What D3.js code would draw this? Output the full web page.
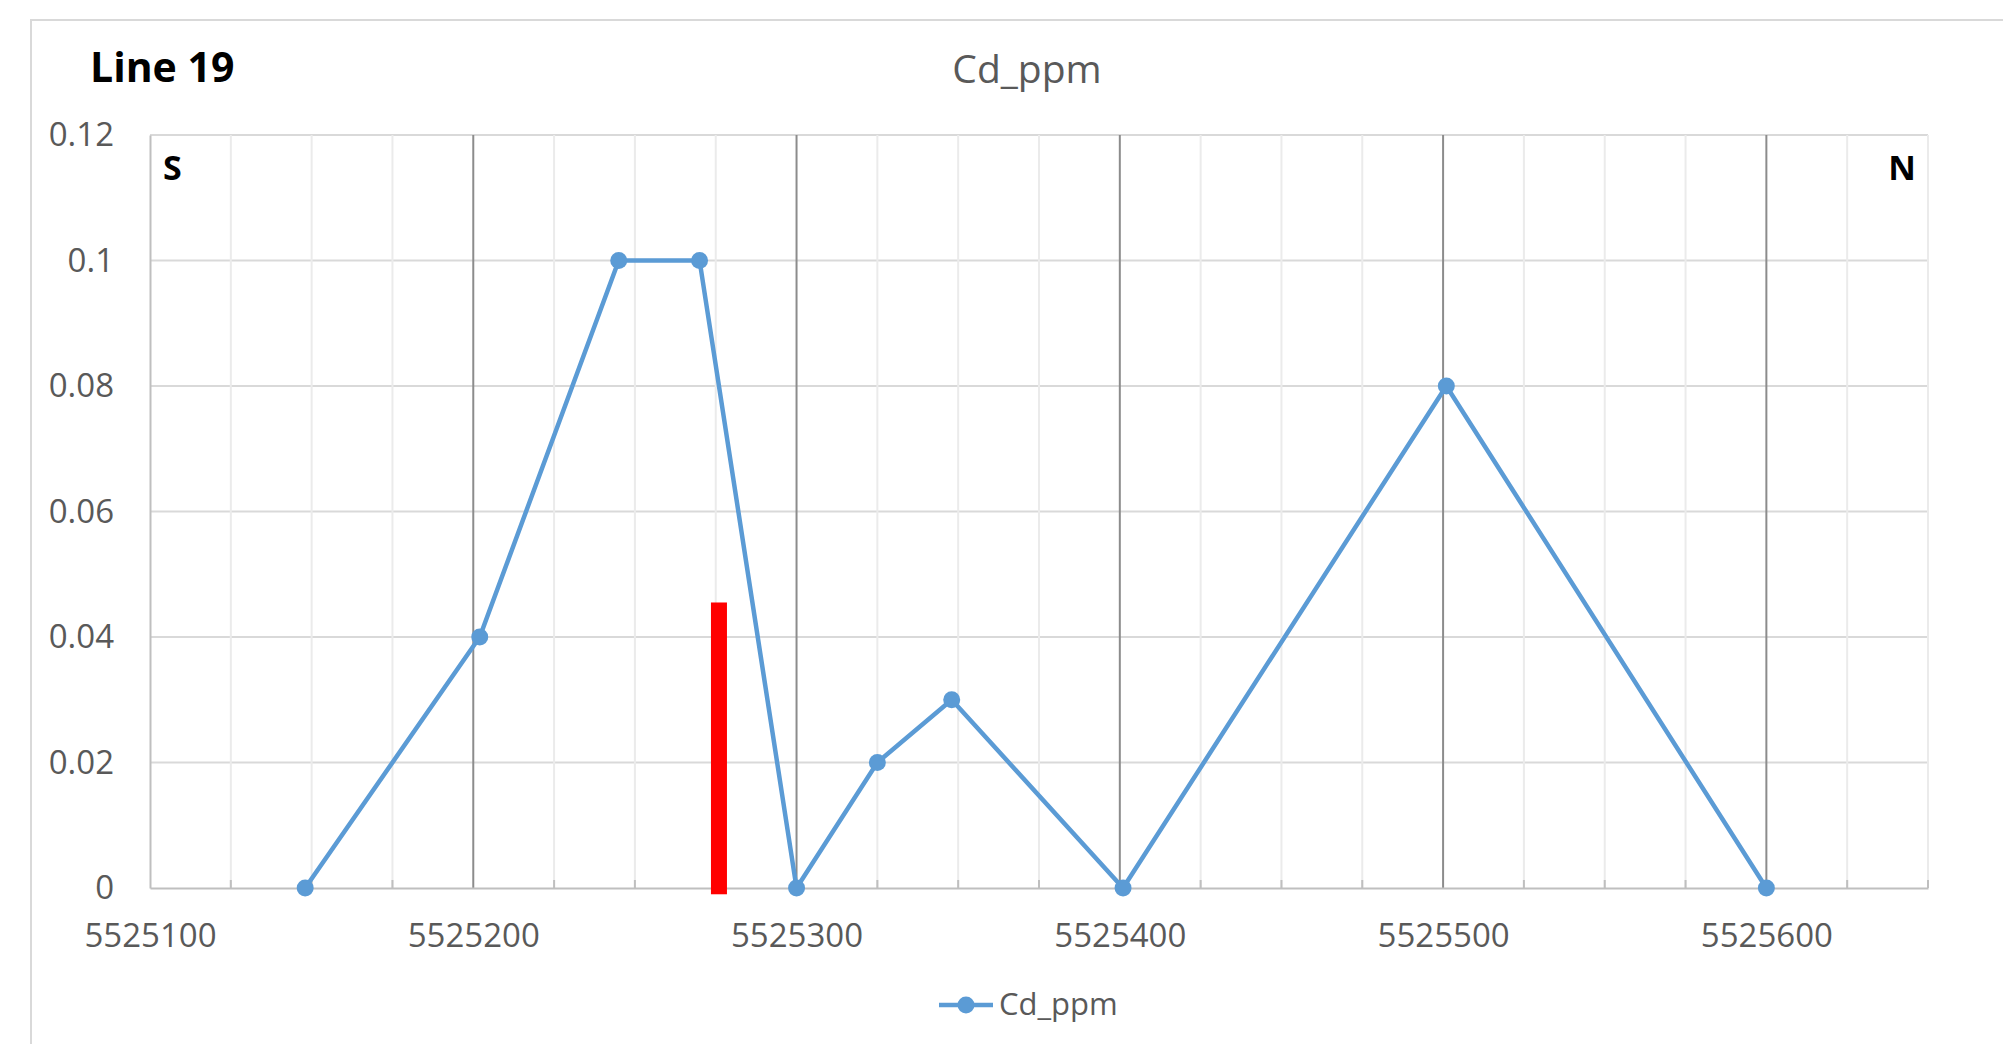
<!DOCTYPE html>
<html>
<head>
<meta charset="utf-8">
<script src="https://cdn.jsdelivr.net/npm/d3@7/dist/d3.min.js"></script>
<style>
  html, body { margin: 0; padding: 0; background: #fff; }
  svg { display: block; }
  text { font-family: "Open Sans", "Noto Sans", sans-serif; }
</style>
</head>
<body>
<svg id="chart" width="2003" height="1044"></svg>
<script>
// ---- data ----
const seriesName = "Cd_ppm";
const northing = [5525148, 5525202, 5525245, 5525270, 5525300, 5525325, 5525348, 5525401, 5525501, 5525600];
const cdPpm    = [0, 0.04, 0.1, 0.1, 0, 0.02, 0.03, 0, 0.08, 0];
const xTickValues = [5525100, 5525200, 5525300, 5525400, 5525500, 5525600];
const xMinorValues = [5525125, 5525150, 5525175, 5525225, 5525250, 5525275, 5525325, 5525350, 5525375,
                      5525425, 5525450, 5525475, 5525525, 5525550, 5525575, 5525625, 5525650];
const yTickValues = [0, 0.02, 0.04, 0.06, 0.08, 0.1, 0.12];
const markerX = [5525276];
const markerTop = [0.0455];
const markerBottom = [-0.001];
const xDomain = [5525100, 5525650];
const yDomain = [0, 0.12];

// ---- layout ----
const svg = d3.select("#chart");
const L = 150, R = 1928, T = 135, B = 888;
const x = d3.scaleLinear().domain(xDomain).range([L, R]);
const y = d3.scaleLinear().domain(yDomain).range([B, T]);
const blue = "#5B9BD5";

// outer chart border
svg.append("rect").attr("x", 31).attr("y", 20).attr("width", 2100).attr("height", 1100)
  .attr("fill", "#fff").attr("stroke", "#d9d9d9").attr("stroke-width", 2);

// horizontal gridlines
svg.append("g").selectAll("line").data(yTickValues.filter(d => d > 0)).join("line")
  .attr("x1", L).attr("x2", R).attr("y1", d => y(d)).attr("y2", d => y(d))
  .attr("stroke", "#d9d9d9").attr("stroke-width", 2);

// minor vertical gridlines
svg.append("g").selectAll("line").data(xMinorValues).join("line")
  .attr("x1", d => x(d)).attr("x2", d => x(d)).attr("y1", T).attr("y2", B)
  .attr("stroke", "#ebebeb").attr("stroke-width", 2);

// major vertical gridlines
svg.append("g").selectAll("line").data(xTickValues.filter(d => d > xDomain[0])).join("line")
  .attr("x1", d => x(d)).attr("x2", d => x(d)).attr("y1", T).attr("y2", B)
  .attr("stroke", "#8c8c8c").attr("stroke-width", 2);

// y axis
const yAxis = d3.axisLeft(y).tickValues(yTickValues).tickSize(0).tickPadding(36)
  .tickFormat(d => d3.format("")(+d.toFixed(2)));
const gy = svg.append("g").attr("transform", `translate(${L},0)`).call(yAxis);
gy.select(".domain").attr("stroke", "#bfbfbf").attr("stroke-width", 2);
gy.selectAll("text").attr("fill", "#595959").attr("font-size", 33)
  .attr("font-family", "'Open Sans', sans-serif");

// x axis
const xAxis = d3.axisBottom(x).tickValues(xTickValues).tickSize(0).tickPadding(36)
  .tickFormat(d3.format("d"));
const gx = svg.append("g").attr("transform", `translate(0,${B})`).call(xAxis);
gx.select(".domain").attr("stroke", "#bfbfbf").attr("stroke-width", 2);
gx.selectAll("text").attr("fill", "#595959").attr("font-size", 33)
  .attr("font-family", "'Open Sans', sans-serif");
// minor tick marks (inside)
svg.append("g").selectAll("line").data(xMinorValues).join("line")
  .attr("x1", d => x(d)).attr("x2", d => x(d)).attr("y1", B).attr("y2", B - 8)
  .attr("stroke", "#bfbfbf").attr("stroke-width", 2);

// red marker bar
svg.append("g").selectAll("rect").data(markerX).join("rect")
  .attr("x", d => x(d) - 8).attr("width", 16)
  .attr("y", (d, i) => y(markerTop[i]))
  .attr("height", (d, i) => y(markerBottom[i]) - y(markerTop[i]))
  .attr("fill", "#ff0000");

// line series
const pts = northing.map((n, i) => [n, cdPpm[i]]);
svg.append("path").datum(pts)
  .attr("d", d3.line().x(d => x(d[0])).y(d => y(d[1])))
  .attr("fill", "none").attr("stroke", blue).attr("stroke-width", 4.5)
  .attr("stroke-linejoin", "round");
svg.append("g").selectAll("circle").data(pts).join("circle")
  .attr("cx", d => x(d[0])).attr("cy", d => y(d[1])).attr("r", 8.5).attr("fill", blue);

// titles
svg.append("text").attr("x", 1027).attr("y", 83).attr("text-anchor", "middle")
  .attr("font-size", 39).attr("fill", "#595959").text(seriesName);
svg.append("text").attr("x", 90).attr("y", 82).attr("font-size", 41)
  .attr("font-weight", "bold").attr("fill", "#000").text("Line 19");
svg.append("text").attr("x", 163).attr("y", 180).attr("font-size", 34)
  .attr("font-weight", "bold").attr("fill", "#000").text("S");
svg.append("text").attr("x", 1916).attr("y", 180).attr("font-size", 34).attr("text-anchor", "end")
  .attr("font-weight", "bold").attr("fill", "#000").text("N");

// legend
const lg = svg.append("g");
lg.append("line").attr("x1", 939).attr("x2", 993).attr("y1", 1005).attr("y2", 1005)
  .attr("stroke", blue).attr("stroke-width", 4.5);
lg.append("circle").attr("cx", 966).attr("cy", 1005).attr("r", 8.5).attr("fill", blue);
lg.append("text").attr("x", 999).attr("y", 1015).attr("font-size", 31)
  .attr("fill", "#595959").text(seriesName);
</script>
</body>
</html>
